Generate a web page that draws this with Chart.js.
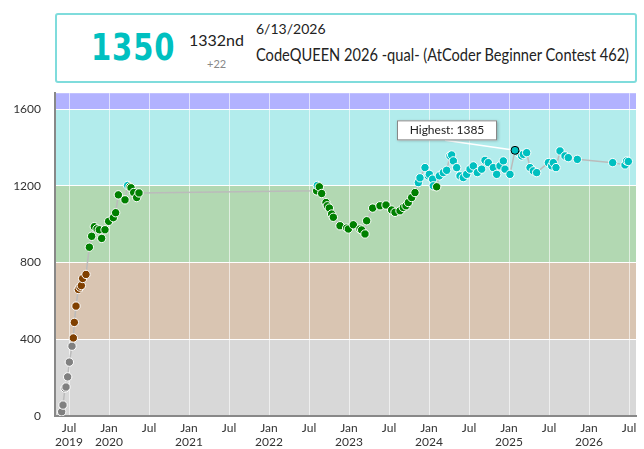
<!DOCTYPE html>
<html><head><meta charset="utf-8">
<script src="https://cdn.jsdelivr.net/npm/chart.js@4"></script>
<style>
body{margin:0;width:644px;height:449px;overflow:hidden;background:#fff;font-family:Lato,sans-serif;position:relative}
#hdr{position:absolute;left:55px;top:13px;width:578px;height:66px;border:2px solid #7fdcdc;border-radius:3px;box-sizing:content-box;background:#fff;z-index:2}
#rt{position:absolute;left:34px;top:10px;font:bold 38px "DejaVu Sans Condensed",sans-serif;color:#00C0C0;letter-spacing:1px;transform:scaleX(0.85);transform-origin:left}
#rk{position:absolute;left:132px;top:15px;font-size:16px;color:#222;white-space:nowrap}
#df{position:absolute;left:150px;top:42px;font-size:11px;color:#888}
#dt{position:absolute;left:199px;top:5px;font-size:14px;color:#222}
#ct{position:absolute;left:199px;top:29px;font-size:17px;color:#222;white-space:nowrap;transform:scaleX(0.86);transform-origin:left}
canvas{position:absolute;left:0;top:0}
</style></head><body>
<div id="hdr"><div id="rt">1350</div><div id="rk">1332nd</div><div id="df">+22</div><div id="dt">6/13/2026</div><div id="ct">CodeQUEEN 2026 -qual- (AtCoder Beginner Contest 462)</div></div>
<div style="position:absolute;left:0;top:72px;width:644px;height:377px"><canvas id="c" width="644" height="377"></canvas></div>
<script>
// months since Jan 2019
const months=[4.9,5.1,5.4,5.55,5.8,6.05,6.45,6.65,6.8,7.05,7.4,7.65,7.85,8.05,8.55,9.05,9.4,9.8,10.2,10.55,10.9,11.4,11.95,12.65,13,13.4,14.4,14.8,15.15,15.3,15.7,16.15,16.5,
43.15,43.25,43.55,43.9,44.55,44.75,45.05,45.4,45.65,46.65,47.65,47.9,48.65,49.65,49.9,50.4,50.65,51.55,52.65,53.55,54.4,54.9,55.65,56.15,56.55,56.9,57.4,57.9,58.4,58.65,59.4,59.9,60.05,60.55,60.65,61.15,61.55,62.15,62.65,63.15,63.4,63.65,64.15,64.65,65.15,65.65,66.15,66.65,67.25,67.9,68.4,68.9,69.65,70.15,70.65,71.15,71.4,72.15,72.9,73.65,73.9,74.15,74.65,75.15,75.65,76.15,77.9,78.4,78.65,79.05,79.65,80.4,80.9,82.25,87.55,89.4,89.65,89.9];
const ratings=[22,57,145,151,204,281,364,407,488,573,660,672,680,717,738,880,937,987,976,971,926,971,1015,1034,1060,1153,1127,1202,1195,1190,1165,1139,1163,1174,1202,
1195,1160,1113,1096,1084,1053,1036,992,980,975,997,975,970,949,1018,1084,1096,1100,1074,1062,1070,1087,1096,1113,1139,1165,1217,1242,1295,1252,1260,1235,1200,1195,1252,1269,1281,1356,1361,1330,1295,1252,1243,1260,1287,1304,1269,1287,1333,1321,1295,1260,1304,1330,1287,1260,1385,1364,1356,1364,1373,1295,1278,1269,1321,1304,1321,1295,1382,1356,1347,1338,1321,1309,1330,1327,1328,1350];
const bands=[[0,400,'#d8d8d8'],[400,800,'#d9c5b2'],[800,1200,'#b2d8b2'],[1200,1600,'#b2ecec'],[1600,2000,'#b2b2ff']];
const yTicks=[0,400,800,1200,1600];
const xTicks=[6,12,18,24,30,36,42,48,54,60,66,72,78,84,90];
function col(r){return r<400?'#808080':r<800?'#804000':r<1200?'#008000':'#00C0C0';}
const bg={id:'bg',beforeDraw(c){const {ctx,chartArea:a,scales:{y}}=c;ctx.save();for(const [lo,hi,cl] of bands){const t=Math.max(y.getPixelForValue(hi),a.top),b=Math.min(y.getPixelForValue(lo),a.bottom);if(b>t){ctx.fillStyle=cl;ctx.fillRect(a.left,t,a.right-a.left,b-t);}}ctx.restore();}};
const hi={id:'hi',afterDatasetsDraw(c){const {ctx,scales:{x,y}}=c;let k=ratings.indexOf(Math.max(...ratings));const px=x.getPixelForValue(months[k]),py=y.getPixelForValue(ratings[k]);ctx.save();
ctx.strokeStyle='#fff';ctx.lineWidth=1.5;ctx.beginPath();ctx.moveTo(px,py);ctx.lineTo(px-70,py-10);ctx.stroke();
ctx.beginPath();ctx.arc(px,py,4,0,7);ctx.fillStyle='#00C0C0';ctx.fill();ctx.strokeStyle='#000';ctx.lineWidth=1;ctx.stroke();
const bx=px-118,by=py-20;ctx.shadowColor='rgba(0,0,0,0.3)';ctx.shadowBlur=3;ctx.shadowOffsetX=1;ctx.shadowOffsetY=1;ctx.fillStyle='#fff';ctx.fillRect(bx,by-10,100,20);ctx.shadowColor='transparent';ctx.strokeStyle='#888';ctx.strokeRect(bx+.5,by-9.5,99,19);
ctx.fillStyle='#222';ctx.font='12px Lato';ctx.textAlign='center';ctx.textBaseline='middle';ctx.fillText('Highest: '+ratings[k],bx+50,by);ctx.restore();}};
new Chart(document.getElementById('c'),{type:'line',
data:{datasets:[{data:months.map((m,i)=>({x:m,y:ratings[i]})),borderColor:'#bbbbbb',borderWidth:1.5,
pointBackgroundColor:ratings.map(col),pointBorderColor:'#fff',pointBorderWidth:1,pointRadius:4.2}]},
plugins:[bg,hi],
options:{responsive:false,animation:false,devicePixelRatio:1,
layout:{padding:{top:13,right:8,left:0,bottom:0}},
plugins:{legend:{display:false},tooltip:{enabled:false}},
scales:{
x:{type:'linear',min:3.9,max:91.05,afterBuildTicks(s){s.ticks=xTicks.map(v=>({value:v}));},afterFit(s){s.height=33;s.paddingRight=0;},
border:{color:'#888',width:2},grid:{color:'rgba(255,255,255,0.6)',drawTicks:false},
ticks:{color:'#333',font:{family:'Lato',size:12},padding:5,maxRotation:0,autoSkip:false,callback(v){const yr=2019+Math.floor(v/12);return v%12===0?['Jan',String(yr)]:(v===6?['Jul','2019']:'Jul');}}},
y:{min:0,max:1683,afterBuildTicks(s){s.ticks=yTicks.map(v=>({value:v}));},afterFit(s){s.width=55;},
border:{color:'#888',width:2},grid:{color:'#fff',drawTicks:false},
ticks:{color:'#333',font:{family:'Lato',size:12},padding:14,callback:v=>String(v)}}}}});
</script>
</body></html>
